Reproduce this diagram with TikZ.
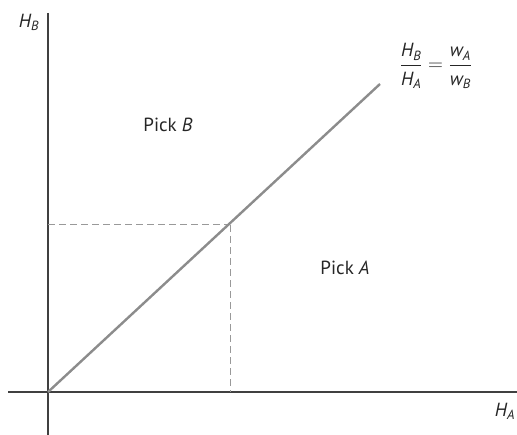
\documentclass[tikz,border=0pt]{standalone}
\usepackage{amsmath}
\usepackage{fontspec}
\setmainfont{PT Sans}
\newcommand{\vr}[2]{\ensuremath{\textit{#1}_{\textit{#2}}}}
\begin{document}
\begin{tikzpicture}[x=1bp,y=-1bp,
  axis/.style={draw=black!75,line width=1.5bp},
  diag/.style={draw=black!45,line width=2.4bp},
  guide/.style={draw=black!40,line width=1bp,dash pattern=on 7bp off 4bp},
  lbl/.style={font=\fontsize{19bp}{22bp}\selectfont,text=black!85,inner sep=0pt}]
\useasboundingbox (0,0) rectangle (517,435);
\coordinate (O) at (48,392);
\coordinate (ytop) at (48,13);
\coordinate (ybot) at (48,435);
\coordinate (xl) at (8,392);
\coordinate (xr) at (517,392);
\coordinate (P) at (230,225);
\coordinate (E) at (380,84);
\coordinate (yP) at (48,225);
\coordinate (xP) at (230,392);
\draw[axis] (ytop) -- (ybot);
\draw[axis] (xl) -- (xr);
\draw[guide] (yP) -- (P);
\draw[guide] (P) -- (xP);
\draw[diag] (O) -- (E);
\node[lbl] (hb) at (29,22) {\vr{H}{B}};
\node[lbl] (ha) at (505,411) {\vr{H}{A}};
\node[lbl] (pb) at (168,125) {Pick \textit{B}};
\node[lbl] (pa) at (345,268) {Pick \textit{A}};
\node[lbl] (eq) at (436,66) {$\dfrac{\vr{H}{B}}{\vr{H}{A}}=\dfrac{\vr{w}{A}}{\vr{w}{B}}$};
\end{tikzpicture}
\end{document}
